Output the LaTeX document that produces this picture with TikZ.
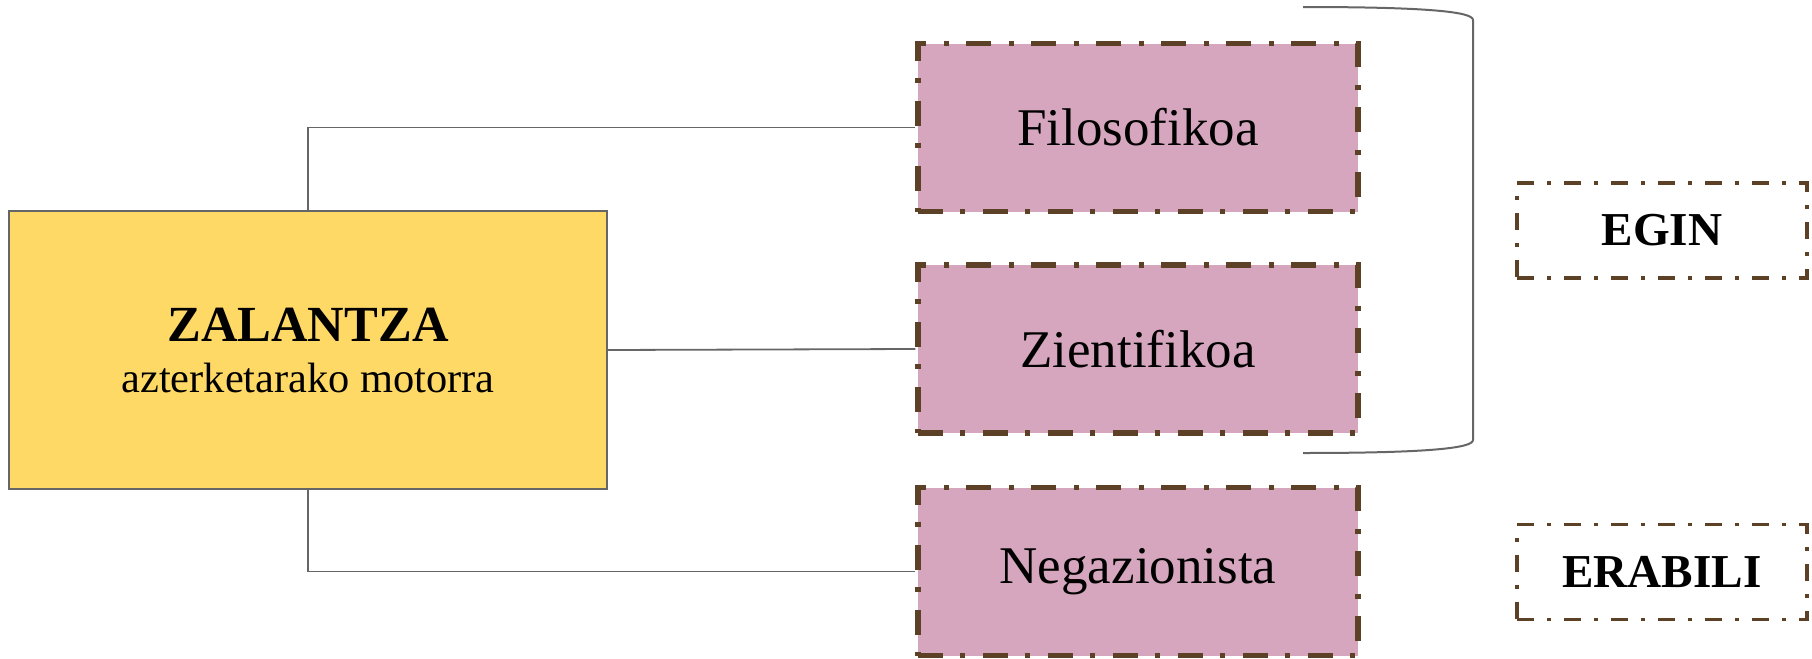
\documentclass[tikz,border=0pt]{standalone}
\usepackage{fontspec}
\setmainfont{Liberation Serif}
\definecolor{pinkfill}{HTML}{D5A6BD}
\definecolor{yellowfill}{HTML}{FFD966}
\definecolor{brownline}{HTML}{5C4126}
\definecolor{grayline}{HTML}{666666}
\tikzset{
  mainbox/.style={draw=grayline, line width=0.9pt, fill=yellowfill, minimum width=299pt, minimum height=139pt, inner sep=0pt, align=center,
    font=\fontsize{21.2}{25.5}\selectfont},
  pinkbox/.style={draw=brownline, line width=2.7pt, fill=pinkfill, minimum width=220pt, minimum height=84pt, inner sep=0pt,
    dash pattern=on 12.5pt off 8.5pt on 2.5pt off 9pt, font=\fontsize{26.5}{30}\selectfont},
  actbox/.style={draw=brownline, line width=1.7pt, minimum width=145pt, minimum height=47.5pt, inner sep=0pt,
    dash pattern=on 8.5pt off 6.5pt on 2pt off 6.5pt, font=\fontsize{23.6}{28}\selectfont\bfseries},
  conn/.style={draw=grayline, line width=0.9pt},
}
\begin{document}
\begin{tikzpicture}[x=0.5pt,y=-0.5pt]
\useasboundingbox (0,0) rectangle (1812,659);
\node[mainbox] (main) at (308,350) {{\fontsize{25.3}{25.5}\selectfont\bfseries ZALANTZA}\\azterketarako motorra};
\node[pinkbox] (fil) at (1138,127.5) {Filosofikoa};
\node[pinkbox] (zie) at (1138,349) {Zientifikoa};
\node[pinkbox] (neg) at (1138,571.5) {Negazionista};
\node[actbox] (egin) at (1662,230.5) {EGIN};
\node[actbox] (erab) at (1662,572) {ERABILI};
\draw[conn] (main.north) |- (fil.west);
\draw[conn] (main.east) -- (zie.west);
\draw[conn] (main.south) |- (neg.west);
\coordinate (bt) at (1303,7);
\coordinate (bb) at (1303,453);
\draw[conn, line width=1pt] (bt) .. controls (1430,7) and (1473,12) .. (1473,20) -- (1473,440) .. controls (1473,448) and (1430,453) .. (bb);
\end{tikzpicture}
\end{document}
